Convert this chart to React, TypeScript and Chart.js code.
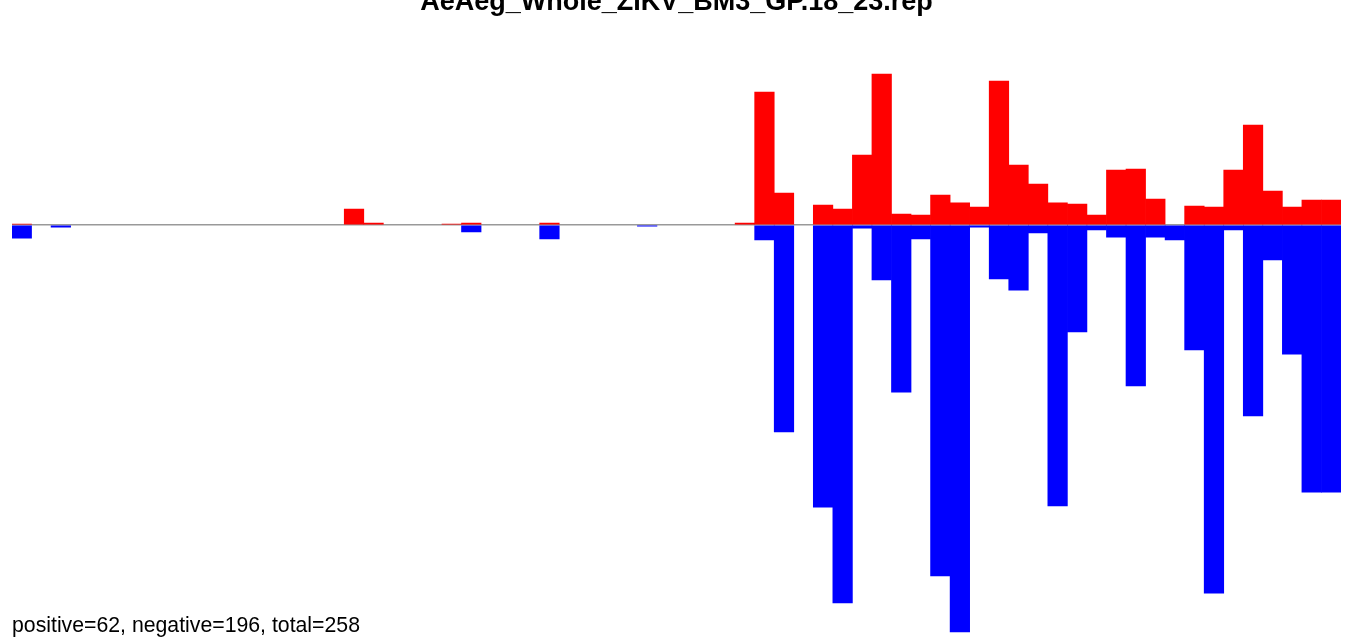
import React, { useEffect, useRef } from "react";
import { Chart, registerables } from "chart.js";

Chart.register(...registerables);

const titleText = "AeAeg_Whole_ZIKV_BM3_GP.18_23.rep";
const footerText = "positive=62, negative=196, total=258";

const binCount = 68;
const binLabels: string[] = Array.from({ length: binCount }, (_, i) => String(i + 1));

const positiveValues: number[] = [
  0.05, 0, 0, 0, 0, 0, 0, 0, 0, 0,
  0, 0, 0, 0, 0, 0, 0, 0.78, 0.1, 0,
  0, 0, 0.05, 0.1, 0, 0, 0, 0.1, 0, 0,
  0, 0, 0, 0, 0, 0, 0, 0.1, 6.5, 1.56,
  0, 0.98, 0.78, 3.42, 7.38, 0.54, 0.49, 1.47, 1.08, 0.88,
  7.04, 2.93, 2.0, 1.08, 1.03, 0.49, 2.69, 2.74, 1.27, 0,
  0.93, 0.88, 2.69, 4.89, 1.66, 0.88, 1.22, 1.22,
];

const negativeValues: number[] = [
  -0.64, 0, -0.1, 0, 0, 0, 0, 0, 0, 0,
  0, 0, 0, 0, 0, 0, 0, 0, 0, 0,
  0, 0, 0, -0.34, 0, 0, 0, -0.68, 0, 0,
  0, 0, -0.05, 0, 0, 0, 0, 0, -0.73, -10.12,
  0, -13.79, -18.48, -0.15, -2.69, -8.17, -0.68, -17.16, -19.9, -0.1,
  -2.64, -3.18, -0.39, -13.74, -5.23, -0.24, -0.59, -7.87, -0.59, -0.73,
  -6.11, -18.0, -0.24, -9.34, -1.71, -6.31, -13.06, -13.06,
];

const yMax = 10.26;
const yMin = -20.34;

const footerPlugin = {
  id: "footerText",
  afterDraw(chart: any) {
    const ctx = chart.ctx;
    ctx.save();
    ctx.font = '21.25px "Liberation Sans", Arial, Helvetica, sans-serif';
    ctx.fillStyle = "#000000";
    ctx.textAlign = "left";
    ctx.textBaseline = "alphabetic";
    ctx.fillText(footerText, 12, chart.height - 9);
    ctx.restore();
  },
};

export default function App() {
  const canvasRef = useRef<HTMLCanvasElement | null>(null);

  useEffect(() => {
    if (!canvasRef.current) return;
    const toData = (arr: number[]) => arr.map((v) => (v === 0 ? null : v));
    const chart = new Chart(canvasRef.current, {
      type: "bar",
      data: {
        labels: binLabels,
        datasets: [
          {
            label: "positive",
            data: toData(positiveValues) as any,
            backgroundColor: "#ff0000",
            borderWidth: 0,
            barPercentage: 1,
            categoryPercentage: 1,
          },
          {
            label: "negative",
            data: toData(negativeValues) as any,
            backgroundColor: "#0000ff",
            borderWidth: 0,
            barPercentage: 1,
            categoryPercentage: 1,
          },
        ],
      },
      options: {
        animation: false,
        responsive: true,
        maintainAspectRatio: false,
        layout: { padding: { left: 12, right: 14, top: 0, bottom: 0 } },
        plugins: {
          legend: { display: false },
          tooltip: { enabled: false },
          title: {
            display: true,
            text: titleText,
            color: "#000000",
            font: { family: '"Liberation Sans", Arial, Helvetica, sans-serif', size: 27, weight: "bold", lineHeight: 1.1556 },
            padding: { top: 2.5, bottom: -2.5 },
          },
        },
        scales: {
          x: {
            display: false,
            stacked: true,
          },
          y: {
            display: true,
            stacked: true,
            min: yMin,
            max: yMax,
            ticks: { display: false, stepSize: 5 },
            border: { display: false },
            grid: {
              drawTicks: false,
              lineWidth: 1.5,
              color: (c: any) => (c.tick && c.tick.value === 0 ? "#999999" : "rgba(0,0,0,0)"),
            },
          },
        },
      },
      plugins: [footerPlugin],
    });
    return () => chart.destroy();
  }, []);

  return (
    <div style={{ position: "absolute", left: 0, top: -16, width: 1355, height: 657 }}>
      <canvas ref={canvasRef} />
    </div>
  );
}
